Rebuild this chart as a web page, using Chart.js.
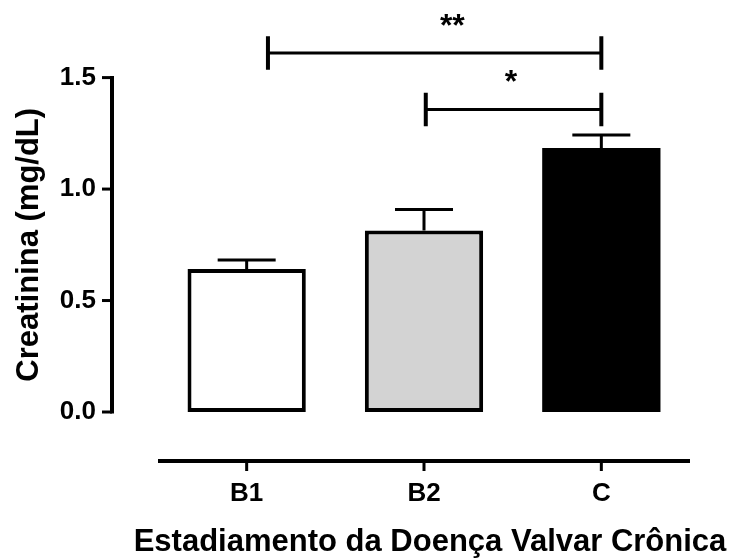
<!DOCTYPE html>
<html>
<head>
<meta charset="utf-8">
<script src="https://cdn.jsdelivr.net/npm/chart.js@4.4.1/dist/chart.umd.min.js"></script>
<style>
  html, body { margin: 0; padding: 0; background: #fff; }
</style>
</head>
<body>
<canvas id="creatinina" width="729" height="558"></canvas>
<script>
// dados
const categorias = ['B1', 'B2', 'C'];
const medias = [0.641, 0.814, 1.184];
const erros = [0.041, 0.094, 0.058];
const ticksY = [0, 0.5, 1.0, 1.5];
const comparacoes = [['B1', 'C', '**'], ['B2', 'C', '*']];
const tituloX = 'Estadiamento da Doença Valvar Crônica';

const fonte = "'Liberation Sans', Arial, sans-serif";
Chart.defaults.font.family = fonte;
Chart.defaults.color = '#000';

// posição dos colchetes de significância (unidades do eixo y / categorias)
const estiloColchete = [
  { nivel: 1.61, recuo: 0.12, textoX: 1.16 },
  { nivel: 1.357, recuo: 0.01, textoX: 1.49 }
];

const extras = {
  id: 'extras',
  afterDatasetsDraw(chart) {
    const { ctx, scales: { x, y }, chartArea } = chart;
    const meta = chart.getDatasetMeta(0);
    ctx.save();
    ctx.strokeStyle = '#000';
    ctx.fillStyle = '#000';

    // barras de erro (só para cima)
    ctx.lineWidth = 3;
    meta.data.forEach((bar, i) => {
      const topo = y.getPixelForValue(medias[i] + erros[i]);
      ctx.beginPath();
      ctx.moveTo(bar.x, bar.y);
      ctx.lineTo(bar.x, topo);
      ctx.moveTo(bar.x - 29, topo);
      ctx.lineTo(bar.x + 29, topo);
      ctx.stroke();
    });

    // eixo y deslocado
    const eixoX = 112;
    ctx.lineWidth = 4;
    ctx.beginPath();
    ctx.moveTo(eixoX, y.getPixelForValue(0) + 1.5);
    ctx.lineTo(eixoX, y.getPixelForValue(1.5) - 1.5);
    ctx.stroke();
    ctx.lineWidth = 3;
    ticksY.forEach(v => {
      const py = y.getPixelForValue(v);
      ctx.beginPath();
      ctx.moveTo(eixoX - 10, py);
      ctx.lineTo(eixoX, py);
      ctx.stroke();
    });

    // eixo x separado
    const eixoY = 461;
    ctx.lineWidth = 4;
    ctx.beginPath();
    ctx.moveTo(chartArea.left, eixoY);
    ctx.lineTo(chartArea.right, eixoY);
    ctx.stroke();
    ctx.lineWidth = 3;
    categorias.forEach((c, i) => {
      const px = x.getPixelForValue(i);
      ctx.beginPath();
      ctx.moveTo(px, eixoY);
      ctx.lineTo(px, eixoY + 10);
      ctx.stroke();
    });

    // título do eixo x (sem limite de largura)
    ctx.font = 'bold 31px ' + fonte;
    ctx.textAlign = 'center';
    ctx.textBaseline = 'middle';
    ctx.fillText(tituloX, 430, 542);

    // colchetes
    ctx.font = 'bold 32px ' + fonte;
    ctx.textBaseline = 'alphabetic';
    comparacoes.forEach(([a, b, txt], k) => {
      const est = estiloColchete[k];
      const x1 = x.getPixelForValue(categorias.indexOf(a) + est.recuo);
      const x2 = x.getPixelForValue(categorias.indexOf(b));
      const py = y.getPixelForValue(est.nivel);
      const pTop = y.getPixelForValue(est.nivel + 0.075);
      const pBot = y.getPixelForValue(est.nivel - 0.075);
      ctx.lineWidth = 3;
      ctx.beginPath();
      ctx.moveTo(x1, py);
      ctx.lineTo(x2, py);
      ctx.stroke();
      ctx.lineWidth = 4;
      ctx.beginPath();
      ctx.moveTo(x1, pTop);
      ctx.lineTo(x1, pBot);
      ctx.moveTo(x2, pTop);
      ctx.lineTo(x2, pBot);
      ctx.stroke();
      ctx.fillText(txt, x.getPixelForValue(est.textoX), py - 17);
    });
    ctx.restore();
  }
};

new Chart(document.getElementById('creatinina'), {
  type: 'bar',
  data: {
    labels: categorias,
    datasets: [{
      data: medias,
      backgroundColor: ['#ffffff', '#d3d3d3', '#000000'],
      borderColor: '#000',
      borderWidth: [4, 4, 0],
      borderSkipped: false,
      categoryPercentage: 1,
      barPercentage: 0.667
    }]
  },
  options: {
    responsive: false,
    animation: false,
    layout: { padding: { top: 75, right: 39, left: 0, bottom: 0 } },
    plugins: { legend: { display: false }, tooltip: { enabled: false } },
    scales: {
      x: {
        grid: { display: false, drawTicks: false },
        border: { display: false },
        ticks: { font: { size: 26, weight: 'bold' }, padding: 66 },
        afterFit(s) { s.height = 146; }
      },
      y: {
        min: 0,
        max: 1.5,
        afterBuildTicks(s) { s.ticks = ticksY.map(v => ({ value: v })); },
        grid: { display: false, drawTicks: false },
        border: { display: false },
        ticks: { font: { size: 26, weight: 'bold' }, padding: 62, callback: v => v.toFixed(1) },
        title: {
          display: true,
          text: 'Creatinina (mg/dL)',
          font: { size: 31, weight: 'bold', lineHeight: 1 },
          padding: { top: 14, bottom: 0 }
        },
        afterFit(s) { s.width = 158; }
      }
    }
  },
  plugins: [extras]
});
</script>
</body>
</html>
